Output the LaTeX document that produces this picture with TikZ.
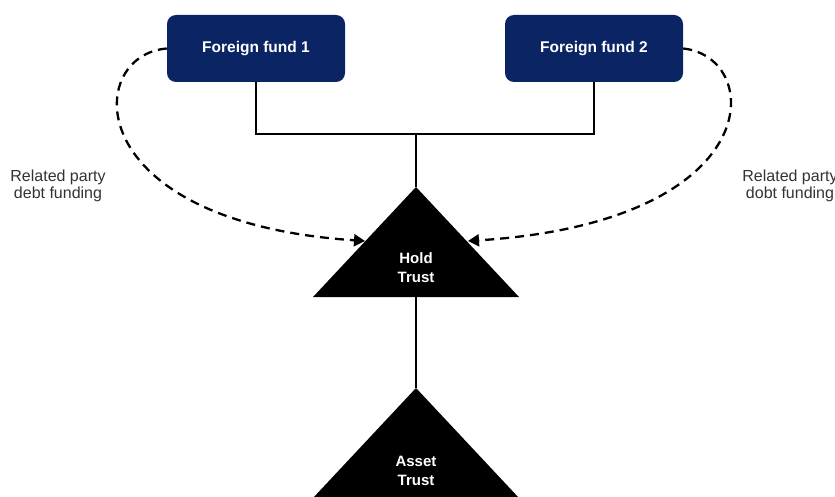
\documentclass[tikz,border=0pt]{standalone}
\usepackage{fontspec}
\setmainfont{Liberation Sans}
\usetikzlibrary{arrows.meta}
\definecolor{fundblue}{RGB}{10,36,100}
\definecolor{notegray}{RGB}{51,51,51}
\begin{document}
\begin{tikzpicture}[x=1pt,y=-1pt,
  fund/.style={fill=fundblue, rounded corners=9pt, minimum width=178pt,
    minimum height=67pt, text=white, font=\bfseries\fontsize{15.5}{18}\selectfont},
  trustlabel/.style={text=white, align=center, inner sep=0pt,
    font=\bfseries\fontsize{15}{19}\selectfont},
  owner/.style={line width=1.5pt},
  funding/.style={line width=2.3pt, dash pattern=on 9pt off 6pt,
    -{Triangle[length=11pt,width=12pt]}},
  note/.style={text=notegray, align=center, inner sep=0pt,
    font=\fontsize{16}{17}\selectfont}]

\useasboundingbox (0,0) rectangle (835,497);

% the two foreign funds
\node[fund] (f1) at (256,48.5) {Foreign fund 1};
\node[fund] (f2) at (594,48.5) {Foreign fund 2};

% Hold Trust
\coordinate (holdtop) at (416,187);
\coordinate (holdbase) at (416,297);
\coordinate (holdleft) at (365,241);
\coordinate (holdright) at (468,241);
\fill[black] (holdtop) -- (313,297) -- (519,297) -- cycle;
\node[trustlabel] (hold) at (416,268) {Hold\\Trust};

% Asset Trust
\coordinate (assettop) at (416,388);
\fill[black] (assettop) -- (313,498) -- (519,498) -- cycle;
\node[trustlabel] (asset) at (416,471) {Asset\\Trust};

% ownership lines
\coordinate (join) at (416,134);
\draw[owner] (f1.south) |- (join);
\draw[owner] (f2.south) |- (join);
\draw[owner] (join) -- (holdtop);
\draw[owner] (holdbase) -- (assettop);

% related party debt funding
\draw[funding] (f1.west) .. controls (84,55) and (78,222) .. (holdleft);
\draw[funding] (f2.east) .. controls (764,57) and (770,222) .. (holdright);

\node[note] (lnote) at (58,186) {Related party\\debt funding};
\node[note] (rnote) at (790,186) {Related party\\dobt funding};
\end{tikzpicture}
\end{document}
